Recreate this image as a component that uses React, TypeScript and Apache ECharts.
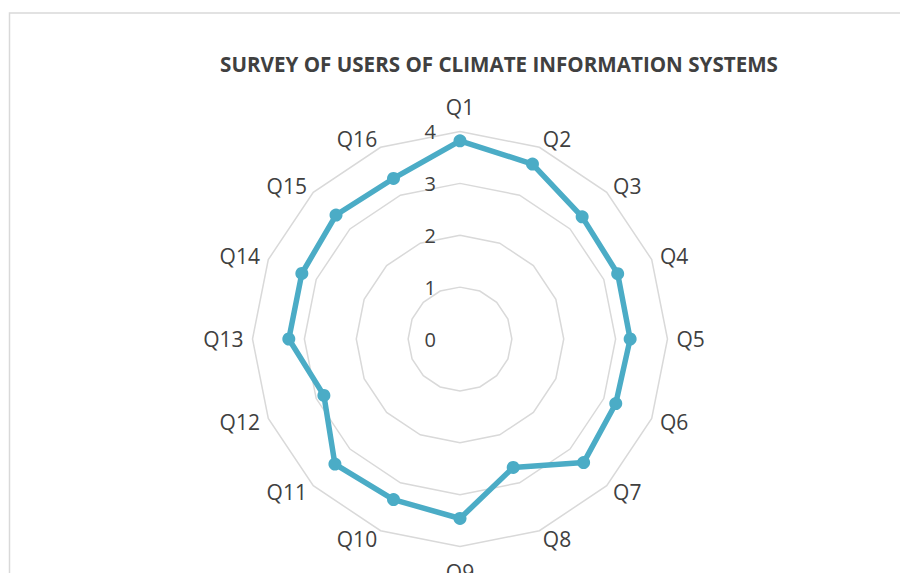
import React, { useEffect, useRef } from "react";
import * as echarts from "echarts";

const TITLE = "SURVEY OF USERS OF CLIMATE INFORMATION SYSTEMS";
const questions = ["Q1","Q2","Q3","Q4","Q5","Q6","Q7","Q8","Q9","Q10","Q11","Q12","Q13","Q14","Q15","Q16"];
const scores = [3.82, 3.65, 3.33, 3.29, 3.28, 3.25, 3.37, 2.68, 3.46, 3.35, 3.41, 2.84, 3.30, 3.30, 3.38, 3.35];
const scaleMax = 4;

const FONT = "'Open Sans', 'Noto Sans', sans-serif";
const TEXT = "#404040";
const LINE = "#4BACC6";

export default function App() {
  const ref = useRef<HTMLDivElement>(null);
  useEffect(() => {
    if (!ref.current) return;
    const chart = echarts.init(ref.current, undefined, { renderer: "svg" });
    // ECharts radar runs counter-clockwise; reorder so Q1..Q16 run clockwise
    const order = questions.map((_, i) => (i === 0 ? 0 : questions.length - i));
    chart.setOption({
      animation: false,
      backgroundColor: "#ffffff",
      title: {
        text: TITLE,
        left: 494,
        top: 48,
        textAlign: "center",
        textStyle: { fontFamily: FONT, fontWeight: "bold", fontSize: 20.6, color: TEXT },
      },
      graphic: [
        {
          type: "rect",
          shape: { x: 9.5, y: 13, width: 1200, height: 1200 },
          style: { fill: "none", stroke: "#d9d9d9", lineWidth: 1.5 },
          silent: true,
        },
      ],
      radar: {
        center: [460, 339],
        radius: 207.5,
        startAngle: 90,
        splitNumber: 4,
        shape: "polygon",
        nameGap: 9,
        axisName: { color: TEXT, fontFamily: FONT, fontSize: 21, lineHeight: 32 },
        axisLine: { show: false },
        axisTick: { show: false },
        splitArea: { show: false },
        splitLine: { lineStyle: { color: "#d9d9d9", width: 1.5 } },
        axisLabel: { show: false },
        indicator: order.map((k, i) =>
          i === 0
            ? { name: questions[k], min: 0, max: scaleMax, axisLabel: { show: true, color: TEXT, fontFamily: FONT, fontSize: 20, margin: 24 } }
            : { name: questions[k], min: 0, max: scaleMax }
        ),
      },
      series: [
        {
          type: "radar",
          symbol: "circle",
          symbolSize: 13,
          lineStyle: { color: LINE, width: 5.5 },
          itemStyle: { color: LINE },
          data: [{ value: order.map((k) => scores[k]), name: "Score" }],
        },
      ],
    });
    return () => chart.dispose();
  }, []);
  return <div ref={ref} style={{ position: "fixed", left: 0, top: 0, width: 900, height: 573 }} />;
}
